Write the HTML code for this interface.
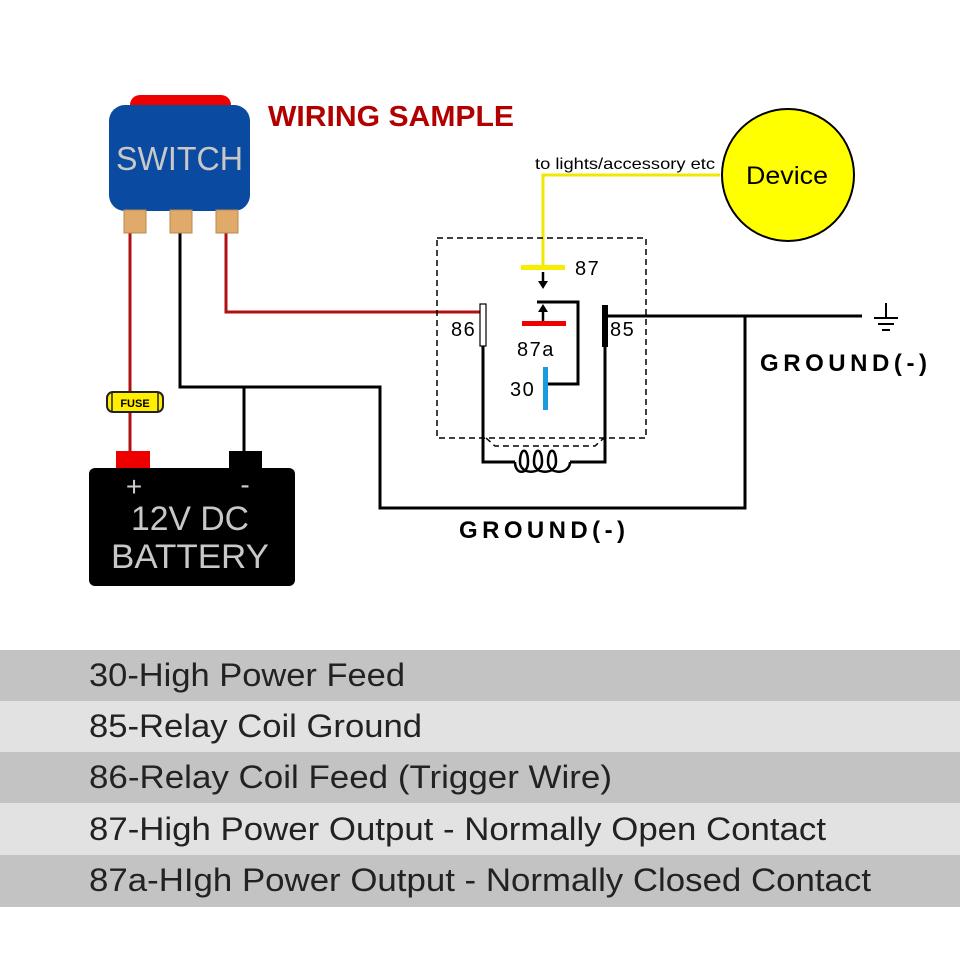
<!DOCTYPE html>
<html><head><style>body{margin:0;background:#fff}svg{display:block}</style></head><body>
<svg width="960" height="960" viewBox="0 0 960 960" xmlns="http://www.w3.org/2000/svg" font-family="Liberation Sans, sans-serif">
<rect width="960" height="960" fill="#fff"/>
<!-- table -->
<rect x="0" y="650" width="960" height="51" fill="#c3c3c3"/>
<rect x="0" y="701" width="960" height="51" fill="#e2e2e2"/>
<rect x="0" y="752" width="960" height="51" fill="#c3c3c3"/>
<rect x="0" y="803" width="960" height="52" fill="#e2e2e2"/>
<rect x="0" y="855" width="960" height="52" fill="#c3c3c3"/>
<g font-size="32" fill="#222" lengthAdjust="spacingAndGlyphs">
<text x="89" y="686" textLength="316" lengthAdjust="spacingAndGlyphs">30-High Power Feed</text>
<text x="89" y="737" textLength="333" lengthAdjust="spacingAndGlyphs">85-Relay Coil Ground</text>
<text x="89" y="788" textLength="523" lengthAdjust="spacingAndGlyphs">86-Relay Coil Feed (Trigger Wire)</text>
<text x="89" y="840" textLength="737" lengthAdjust="spacingAndGlyphs">87-High Power Output - Normally Open Contact</text>
<text x="89" y="891" textLength="782" lengthAdjust="spacingAndGlyphs">87a-HIgh Power Output - Normally Closed Contact</text>
</g>
<!-- wires -->
<g fill="none" stroke-width="3">
<path d="M130 233V452" stroke="#b01010"/>
<path d="M226 233V312H483" stroke="#b01010"/>
<path d="M180 233V387H380V508H745V316" stroke="#000"/>
<path d="M244 387V455" stroke="#000"/>
<path d="M605 316H862" stroke="#000"/>
<path d="M483 346V462H515M570 462H605V346" stroke="#000"/>
<path d="M543 267V175H720" stroke="#f0e800"/>
<path d="M537 302H578V384H545" stroke="#000"/>
</g>
<!-- coil -->
<path d="M515 462 C515 475 528 475 528 462 C528 447 520 447 520 462 C520 475 542 475 542 462 C542 447 534 447 534 462 C534 475 556 475 556 462 C556 447 548 447 548 462 C548 475 570 475 570 462" fill="none" stroke="#000" stroke-width="2.5"/>
<!-- relay box -->
<rect x="437" y="238" width="209" height="200" fill="none" stroke="#000" stroke-width="1.5" stroke-dasharray="6,4"/>
<path d="M486 438L495 446H595L604 438" fill="none" stroke="#000" stroke-width="1.5" stroke-dasharray="6,4"/>
<rect x="480" y="304" width="6" height="42" fill="#fff" stroke="#000" stroke-width="1.2"/>
<rect x="602" y="305" width="6" height="42" fill="#000"/>
<rect x="521" y="265" width="44" height="5" fill="#f5ee00"/>
<rect x="522" y="321" width="44" height="5" fill="#e00"/>
<rect x="543" y="367" width="5" height="43" fill="#1a9be0"/>
<path d="M543 272V283" stroke="#000" stroke-width="2.5"/>
<path d="M538 281L543 289L548 281Z" fill="#000"/>
<path d="M543 321V310" stroke="#000" stroke-width="2.5"/>
<path d="M538 312L543 304L548 312Z" fill="#000"/>
<g font-size="20" fill="#000" letter-spacing="1.5">
<text x="575" y="275">87</text>
<text x="451" y="336">86</text>
<text x="610" y="336">85</text>
<text x="517" y="356">87a</text>
<text x="510" y="396">30</text>
</g>
<!-- ground symbol -->
<path d="M886 303V317M874 318H898M878 324H894M882 330H890" stroke="#000" stroke-width="2" fill="none"/>
<g font-size="24" font-weight="bold">
<text x="760" y="371" textLength="167" lengthAdjust="spacing">GROUND(-)</text>
<text x="459" y="538" textLength="166" lengthAdjust="spacing">GROUND(-)</text>
</g>
<!-- device -->
<circle cx="788" cy="175" r="66" fill="#ffff00" stroke="#000" stroke-width="2"/>
<text x="746" y="184" font-size="25" textLength="82" lengthAdjust="spacingAndGlyphs">Device</text>
<text x="535" y="169" font-size="16" textLength="180" lengthAdjust="spacingAndGlyphs">to lights/accessory etc</text>
<!-- switch -->
<rect x="130" y="95" width="101" height="25" rx="10" fill="#ee0000"/>
<rect x="109" y="105" width="141" height="106" rx="16" fill="#0a4aa0"/>
<text x="116" y="170" font-size="33" fill="#c8c8c8" textLength="127" lengthAdjust="spacingAndGlyphs">SWITCH</text>
<rect x="124" y="210" width="22" height="23" fill="#e0aa6a" stroke="#b88a50"/>
<rect x="170" y="210" width="22" height="23" fill="#e0aa6a" stroke="#b88a50"/>
<rect x="216" y="210" width="22" height="23" fill="#e0aa6a" stroke="#b88a50"/>
<text x="268" y="126" font-size="29" font-weight="bold" fill="#b00000" textLength="246" lengthAdjust="spacingAndGlyphs">WIRING SAMPLE</text>
<!-- fuse -->
<rect x="107" y="392" width="56" height="20" rx="6" fill="#ffee00" stroke="#222" stroke-width="2"/>
<path d="M112 393V411M158 393V411" stroke="#222" stroke-width="1.5"/>
<text x="135" y="407" font-size="11" font-weight="bold" text-anchor="middle">FUSE</text>
<!-- battery -->
<rect x="116" y="451" width="34" height="18" fill="#ee0000"/>
<rect x="229" y="451" width="33" height="18" fill="#000"/>
<rect x="89" y="468" width="206" height="118" rx="6" fill="#000"/>
<text x="134" y="496" font-size="28" fill="#ccc" text-anchor="middle">+</text>
<text x="245" y="494" font-size="28" fill="#ccc" text-anchor="middle">-</text>
<text x="131" y="530" font-size="34" fill="#c8c8c8" textLength="118" lengthAdjust="spacingAndGlyphs">12V DC</text>
<text x="111" y="568" font-size="34" fill="#c8c8c8" textLength="158" lengthAdjust="spacingAndGlyphs">BATTERY</text>
</svg>
</body></html>
